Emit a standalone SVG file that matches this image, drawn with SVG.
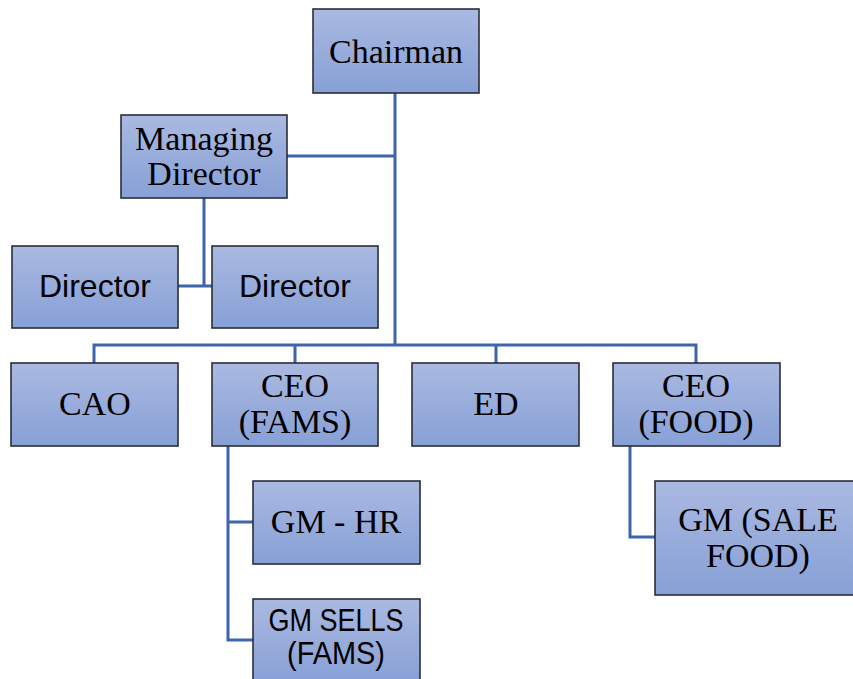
<svg xmlns="http://www.w3.org/2000/svg" width="853" height="679" viewBox="0 0 853 679">
<defs>
<linearGradient id="g" x1="0" y1="0" x2="0" y2="1">
<stop offset="0" stop-color="#aab9e1"/>
<stop offset="1" stop-color="#87a0d6"/>
</linearGradient>
<style>
.box{fill:url(#g);stroke:#2a2e38;stroke-width:1.6}
.ser{font-family:"Liberation Serif","Times New Roman",serif;font-size:34px;fill:#000;text-anchor:middle}
.san{font-family:"Liberation Sans",Arial,sans-serif;font-size:32px;fill:#000;text-anchor:middle}
.c{fill:none;stroke:#3d64ad;stroke-width:3}
</style>
</defs>
<rect width="853" height="679" fill="#fff"/>
<g id="connectors">
<path class="c" d="M395 93V345"/>
<path class="c" d="M287 156H395"/>
<path class="c" d="M204 198V286M178 286H212"/>
<path class="c" d="M94 363V345H696V363M295 345V363M496 345V363"/>
<path class="c" d="M228 446V640H253M228 522H253"/>
<path class="c" d="M630 446V537H655"/>
</g>
<g id="chairman"><rect class="box" x="313" y="9" width="166" height="84"/><text class="ser" x="396" y="63">Chairman</text></g>
<g id="managing-director"><rect class="box" x="121" y="115" width="166" height="83"/><text class="ser" x="204" y="150">Managing</text><text class="ser" x="204" y="185">Director</text></g>
<g id="director-1"><rect class="box" x="12" y="246" width="166" height="82"/><text class="san" x="95" y="297">Director</text></g>
<g id="director-2"><rect class="box" x="212" y="246" width="166" height="82"/><text class="san" x="295" y="297">Director</text></g>
<g id="cao"><rect class="box" x="11" y="363" width="167" height="83"/><text class="ser" x="95" y="415">CAO</text></g>
<g id="ceo-fams"><rect class="box" x="212" y="363" width="166" height="83"/><text class="ser" x="295" y="397">CEO</text><text class="ser" x="295" y="433">(FAMS)</text></g>
<g id="ed"><rect class="box" x="412" y="363" width="167" height="83"/><text class="ser" x="496" y="415">ED</text></g>
<g id="ceo-food"><rect class="box" x="613" y="363" width="167" height="83"/><text class="ser" x="696" y="397">CEO</text><text class="ser" x="696" y="433">(FOOD)</text></g>
<g id="gm-hr"><rect class="box" x="253" y="481" width="167" height="83"/><text class="ser" x="336" y="533">GM - HR</text></g>
<g id="gm-sells-fams"><rect class="box" x="253" y="599" width="167" height="84"/><text class="san" x="336" y="631" textLength="135" lengthAdjust="spacingAndGlyphs">GM SELLS</text><text class="san" x="336" y="664" textLength="98" lengthAdjust="spacingAndGlyphs">(FAMS)</text></g>
<g id="gm-sale-food"><rect class="box" x="655" y="481" width="206" height="114"/><text class="ser" x="758" y="531">GM (SALE</text><text class="ser" x="758" y="567">FOOD)</text></g>
</svg>
